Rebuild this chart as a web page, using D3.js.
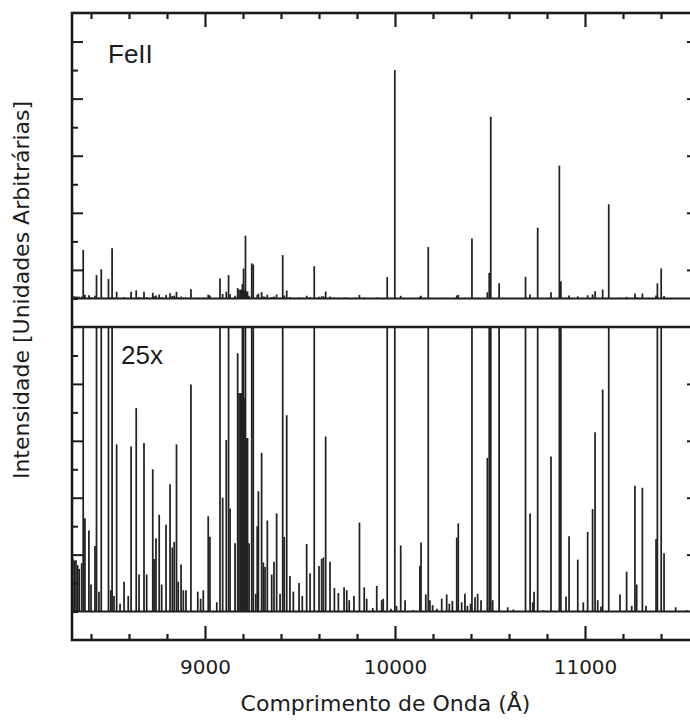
<!DOCTYPE html>
<html>
<head>
<meta charset="utf-8">
<script src="https://cdn.jsdelivr.net/npm/d3@7"></script>
<style>
  html, body { margin: 0; padding: 0; background: #fff; }
  svg { display: block; }
</style>
</head>
<body>
<svg id="chart" width="690" height="721"></svg>
<script>
// Fe II emission lines: wavelength (Å) and relative intensity (arbitrary units)
const lineWavelength = [
  8304, 8312, 8321, 8330, 8338, 8351, 8359, 8368, 8389, 8400, 8421, 8429, 8442, 8454,
  8492, 8504, 8511, 8521, 8535, 8553, 8574, 8596, 8611, 8638, 8653, 8679, 8693, 8725,
  8732, 8742, 8759, 8772, 8795, 8816, 8828, 8838, 8850, 8859, 8874, 8886, 8900, 8926,
  8962, 8977, 8991, 9017, 9026, 9062, 9079, 9093, 9112, 9124, 9132, 9158, 9172, 9179,
  9186, 9193, 9197, 9203, 9208, 9213, 9219, 9224, 9232, 9246, 9254, 9267, 9275, 9281,
  9298, 9307, 9316, 9328, 9351, 9363, 9377, 9395, 9409, 9417, 9430, 9447, 9465, 9495,
  9512, 9535, 9553, 9575, 9600, 9614, 9623, 9635, 9658, 9681, 9702, 9732, 9746, 9759,
  9784, 9813, 9838, 9851, 9883, 9904, 9930, 9938, 9959, 9979, 9999, 10008, 10030, 10053,
  10096, 10131, 10137, 10162, 10175, 10184, 10198, 10220, 10246, 10272, 10286, 10302,
  10325, 10333, 10351, 10368, 10381, 10398, 10405, 10421, 10435, 10453, 10486, 10496,
  10504, 10514, 10548, 10593, 10623, 10687, 10711, 10725, 10732, 10751, 10781, 10821,
  10865, 10873, 10900, 10916, 10962, 10991, 11014, 11040, 11053, 11067, 11084, 11093,
  11125, 11184, 11219, 11246, 11263, 11272, 11302, 11321, 11374, 11381, 11401, 11416,
  11477, 11535
];
const lineIntensity = [
  0.075, 0.072, 0.072, 0.065, 0.060, 0.068, 1.70, 0.131, 0.114, 0.038, 0.092, 0.82, 0.028, 1.02,
  0.68, 0.030, 1.76, 0.022, 0.235, 0.011, 0.042, 0.022, 0.232, 0.286, 0.052, 0.237, 0.052, 0.200,
  0.074, 0.103, 0.136, 0.038, 0.122, 0.179, 0.090, 0.098, 0.235, 0.042, 0.066, 0.030, 0.030, 0.319,
  0.028, 0.018, 0.030, 0.134, 0.105, 0.013, 0.70, 0.160, 0.241, 0.82, 0.145, 0.096, 0.363, 0.307,
  0.307, 0.307, 0.50, 1.05, 0.30, 2.20, 0.244, 0.244, 0.096, 1.23, 1.19, 0.025, 0.120, 0.169,
  0.223, 0.069, 0.063, 0.128, 0.052, 0.070, 0.138, 0.025, 1.52, 0.105, 0.276, 0.050, 0.028, 0.040,
  0.022, 0.095, 0.054, 1.13, 0.064, 0.074, 0.076, 0.246, 0.070, 0.033, 0.026, 0.034, 0.030, 0.016,
  0.022, 0.125, 0.034, 0.018, 0.005, 0.036, 0.016, 0.018, 0.75, 0.004, 8.00, 0.008, 0.093, 0.016,
  0.002, 0.064, 0.097, 0.024, 1.80, 0.016, 0.009, 0.004, 0.018, 0.024, 0.011, 0.015,
  0.104, 0.124, 0.013, 0.025, 0.008, 0.011, 2.10, 0.020, 0.025, 0.016, 0.216, 0.90,
  6.37, 0.016, 0.53, 0.006, 0.003, 0.76, 0.138, 0.013, 0.028, 2.48, 0.002, 0.218,
  4.65, 0.60, 0.021, 0.106, 0.073, 0.013, 0.112, 0.144, 0.252, 0.016, 0.007, 0.312,
  3.30, 0.024, 0.056, 0.008, 0.177, 0.038, 0.174, 0.008, 0.102, 0.53, 1.05, 0.082,
  0.006, 0.002
];

// Two panels: the spectrum as is, and magnified 25 times
const panelFactors = [1, 25];
const panelLabels = ["FeII", "25x"];

// Axis ticks
const xMajorTicks = [9000, 10000, 11000];
const xMinorTicks = [8400, 8600, 8800, 9200, 9400, 9600, 9800, 10200, 10400, 10600, 10800, 11200, 11400];
const yTicks = [0, 1, 2, 3, 4, 5, 6, 7, 8, 9];

const xTitle = "Comprimento de Onda (Å)";
const yTitle = "Intensidade [Unidades Arbitrárias]";

const svg = d3.select("#chart");
const ink = "#1c1c1c";

const x = d3.scaleLinear().domain([8300, 11600]).range([72, 699]);
const panelTop = [13, 327];
const panelBottom = [327, 640];
const yScales = panelFactors.map((_, i) =>
  d3.scaleLinear().domain([-1, 10]).range([panelBottom[i], panelTop[i]]));

const lines = lineWavelength.map((w, i) => ({ w, v: lineIntensity[i] }));

const defs = svg.append("defs");

panelFactors.forEach((factor, p) => {
  const y = yScales[p];
  const clipId = "clip-" + p;
  defs.append("clipPath").attr("id", clipId)
    .append("rect")
    .attr("x", x.range()[0]).attr("y", panelTop[p])
    .attr("width", x.range()[1] - x.range()[0])
    .attr("height", panelBottom[p] - panelTop[p]);

  const g = svg.append("g").attr("clip-path", `url(#${clipId})`);

  // continuum baseline
  g.append("line")
    .attr("x1", x(8300)).attr("x2", x(11600))
    .attr("y1", y(0)).attr("y2", y(0))
    .attr("stroke", ink).attr("stroke-width", 2);

  // emission lines
  g.selectAll("line.em")
    .data(lines)
    .join("line")
    .attr("class", "em")
    .attr("x1", d => x(d.w)).attr("x2", d => x(d.w))
    .attr("y1", y(0))
    .attr("y2", d => y(Math.min(d.v * factor, 10.5)))
    .attr("stroke", "#222")
    .attr("stroke-width", 1.75);

  // inward ticks on the left and right sides
  const longTicks = yTicks.filter(t => t > 0 && (p === 0 ? t % 2 === 1 : t % 2 === 0));
  const shortTicks = yTicks.filter(t => !longTicks.includes(t));
  [[longTicks, 11], [shortTicks, 6]].forEach(([vals, len]) => {
    svg.append("g")
      .attr("transform", `translate(${x.range()[0]},0)`)
      .call(d3.axisRight(y).tickValues(vals).tickSize(len).tickFormat(""))
      .call(a => a.select(".domain").remove())
      .call(a => a.selectAll("line").attr("stroke", ink).attr("stroke-width", 2));
    svg.append("g")
      .attr("transform", `translate(${x.range()[1]},0)`)
      .call(d3.axisLeft(y).tickValues(vals).tickSize(len + 1).tickFormat(""))
      .call(a => a.select(".domain").remove())
      .call(a => a.selectAll("line").attr("stroke", ink).attr("stroke-width", 2));
  });

  // panel label
  svg.append("text")
    .attr("x", p === 0 ? 108 : 121)
    .attr("y", p === 0 ? 63 : 364)
    .attr("font-family", "'Liberation Sans', Arial, sans-serif")
    .attr("font-size", 26)
    .attr("fill", ink)
    .text(panelLabels[p]);
});

// top and bottom x axes, ticks pointing inward
[[xMinorTicks, 6], [xMajorTicks, 14]].forEach(([vals, len]) => {
  svg.append("g")
    .attr("transform", `translate(0,${panelTop[0]})`)
    .call(d3.axisBottom(x).tickValues(vals).tickSize(len).tickFormat(""))
    .call(a => a.select(".domain").remove())
    .call(a => a.selectAll("line").attr("stroke", ink).attr("stroke-width", 2.2));
  svg.append("g")
    .attr("transform", `translate(0,${panelBottom[1]})`)
    .call(d3.axisTop(x).tickValues(vals).tickSize(len).tickFormat(""))
    .call(a => a.select(".domain").remove())
    .call(a => a.selectAll("line").attr("stroke", ink).attr("stroke-width", 2.2));
});

// tick labels
svg.append("g")
  .attr("transform", `translate(0,${panelBottom[1]})`)
  .call(d3.axisBottom(x).tickValues(xMajorTicks).tickSize(0).tickPadding(20).tickFormat(d3.format("d")))
  .call(a => a.select(".domain").remove())
  .call(a => a.selectAll("text")
    .attr("font-family", "'DejaVu Sans', sans-serif")
    .attr("font-size", 20)
    .attr("fill", ink));

// frame and panel divider
svg.append("rect")
  .attr("x", x.range()[0]).attr("y", panelTop[0])
  .attr("width", x.range()[1] - x.range()[0])
  .attr("height", panelBottom[1] - panelTop[0])
  .attr("fill", "none").attr("stroke", ink).attr("stroke-width", 2.6);
svg.append("line")
  .attr("x1", x.range()[0]).attr("x2", x.range()[1])
  .attr("y1", panelBottom[0]).attr("y2", panelBottom[0])
  .attr("stroke", ink).attr("stroke-width", 2.6);

// axis titles
svg.append("text")
  .attr("x", (x.range()[0] + x.range()[1]) / 2)
  .attr("y", 711)
  .attr("text-anchor", "middle")
  .attr("font-family", "'DejaVu Sans', sans-serif")
  .attr("font-size", 22)
  .attr("fill", ink)
  .text(xTitle);

svg.append("text")
  .attr("transform", "translate(29,290) rotate(-90)")
  .attr("text-anchor", "middle")
  .attr("font-family", "'DejaVu Sans', sans-serif")
  .attr("font-size", 22)
  .attr("fill", ink)
  .text(yTitle);
</script>
</body>
</html>
